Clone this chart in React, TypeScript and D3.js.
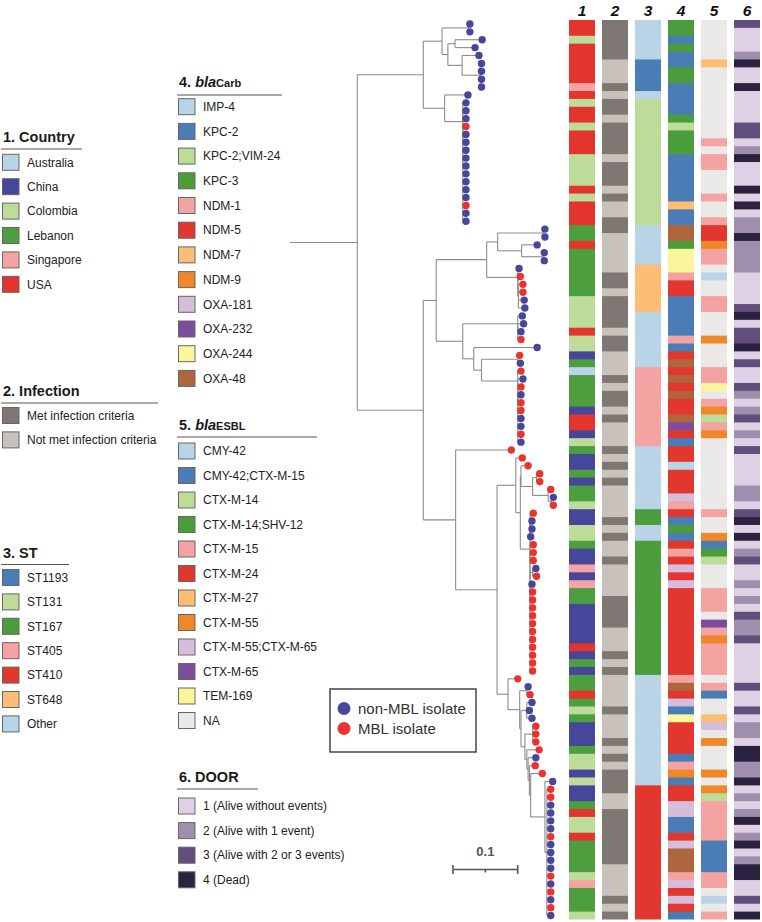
import React from "react";
import * as d3 from "d3";

// ---------------- DATA ----------------
const NROW = 114;

const countryCats = ["Australia", "China", "Colombia", "Lebanon", "Singapore", "USA"];
const countryColors = ["#b8d4e6", "#46469b", "#bddb99", "#4d9e3f", "#f4a4a4", "#e3352e"];
const countryKeys = "ANCLSU";
const countryRows =
  "UUCUUUUUSU" + "CUUCUUUCCC" + "CUCUUULLUL" + "LLLLLCCCCU" + "CCNLALLLLN" +
  "UUNCLNNLNL" + "LCNNCCLNNS" + "NSLLNNNNNU" + "NLNLLULCLN" + "NNLCCNCNNL" +
  "UCCULLLLCS" + "LLLC";

const infectionCats = ["Met infection criteria", "Not met infection criteria"];
const infectionColors = ["#7f7774", "#c9c1bc"];
const infectionKeys = "10";
const infectionRows =
  "1111100010" + "1101111011" + "1010011000" + "0011011110" + "1100010110" +
  "1000101010" + "0001010010" + "0001111000" + "1010000100" + "0101011100" +
  "1111111000" + "0101";

const stCats = ["ST1193", "ST131", "ST167", "ST405", "ST410", "ST648", "Other"];
const stColors = ["#4a7db6", "#bddb99", "#4b9d3c", "#f4a2a2", "#e2372f", "#fbbe74", "#b8d4e6"];
const stKeys = "bgGprox";
const stRows =
  "xxxxxbbbbx" + "gggggggggg" + "ggggggxxxx" + "xooooooxxx" + "xxxxpppppp" +
  "ppppxxxxxx" + "xxGGxxGGGG" + "GGGGGGGGGG" + "GGGxxxxxxx" + "xxxxxxxrrr" +
  "rrrrrrrrrr" + "rrrr";

const carbCats = ["IMP-4", "KPC-2", "KPC-2;VIM-24", "KPC-3", "NDM-1", "NDM-5", "NDM-7", "NDM-9", "OXA-181", "OXA-232", "OXA-244", "OXA-48"];
const carbColors = ["#b8d4e6", "#4a7db6", "#bddb99", "#4b9d3c", "#f4a2a2", "#e2372f", "#fbbe74", "#f0882a", "#d6bddc", "#7c4d9c", "#fbf69c", "#b0663d"];
const carbKeys = "abcdefghijkl";
const carbRows =
  "ddbdbbddbb" + "bbdcdddbbb" + "bbbgbblldk" + "kkeffbbbbb" + "ebflflflff" +
  "ljfbffafff" + "iefbdbfefi" + "fiffffffff" + "fffelfibkf" + "fffbehbffi" +
  "ibbfilllei" + "fifb";

const esblCats = ["CMY-42", "CMY-42;CTX-M-15", "CTX-M-14", "CTX-M-14;SHV-12", "CTX-M-15", "CTX-M-24", "CTX-M-27", "CTX-M-55", "CTX-M-55;CTX-M-65", "CTX-M-65", "TEM-169", "NA"];
const esblColors = ["#b8d4e6", "#4a7db6", "#bddb99", "#4b9d3c", "#f4a2a2", "#e2372f", "#fbbe74", "#f0882a", "#d6bddc", "#7c4d9c", "#fbf69c", "#ebe8e8"];
const esblKeys = "abcdefghijkl";
const esblRows =
  "lllllgllll" + "llllleleel" + "llelleffhe" + "elalleelll" + "hllleekleh" +
  "cehlllllll" + "llellhbdcl" + "lleeeljehe" + "eeelebllgi" + "lhlllhlhce" +
  "eeeebbbbee" + "lale";

const doorCats = ["1 (Alive without events)", "2 (Alive with 1 event)", "3 (Alive with 2 or 3 events)", "4 (Dead)"];
const doorColors = ["#dfd0e6", "#9f8fae", "#614e7c", "#2b2240"];
const doorKeys = "1234";
const doorRows =
  "3111241141" + "1113312411" + "1414122422" + "2211113413" + "3413113212" +
  "3121311112" + "2134141231" + "1212132231" + "1111311312" + "2144224121" +
  "2412412441" + "1314";

// 1 = MBL isolate (red), 0 = non-MBL isolate (blue)
const mblTips =
  "0000000000" + "0001000000" + "0001000000" + "0011100000" + "1010101011" +
  "0010111111" + "0110001110" + "1011111111" + "1111010001" + "1110110110" +
  "0001000010" + "1010";

// Tree: Newick-like, number after a node = node height from root (x 0.001 subst./site)
const treeText = `(
 (
  (
   ((278,278)276,((297,286)255,(292,(296,296,296,296)294)266)244)235,
   (275,(272,(272,(272,272,272,272,272,272,272,272,272,272,272,272,272,272)267)267)267)239
  )206,
  (
   (
    (((394,394)391,(382,(393,393)391)358)321,(354,(356,(360,360,362,363)353)352)352)304,
    ((359,(361,357,357)352)352,(382,((355,356)352,(357,(360,(357,(357,357,357,357,357,357,357)352)352)352)352)296)284)267
   )226,
   (342,
    (
     (359,((368,((386,386)381,(403,(407,407)404)399)375)357,
       ((376,(374,374,372)371)371,((376,376,376)371,((380,381)375,374,(375,375,375,375,375,375,375,375,375,375,375)371)371)371)371
     )356)349,
     (352,((368,371)366,((374,370,374)366,((380,380,380)375,(385,(380,(379,(390,(406,(403,403,403,403,403,403,403,403,403,403,403,403,403,403,403,403,403)397)394)372)370)368)366)363)357)355)337
    )320
   )256
  )206
 )104
)0`;

const mblLabels = ["non-MBL isolate", "MBL isolate"];
const mblColors = ["#46469b", "#e8342c"];
const columnLabels = ["1", "2", "3", "4", "5", "6"];

// ---------------- HELPERS ----------------
type TNode = { children?: TNode[]; h: number; leaf?: number; y?: number };

function parseTree(src: string): TNode {
  const s = src.replace(/\s+/g, "");
  let i = 0;
  let leafIdx = 0;
  const num = () => {
    const m = /^[0-9.]+/.exec(s.slice(i));
    const t = m ? m[0] : "0";
    i += t.length;
    return parseFloat(t);
  };
  const node = (): TNode => {
    if (s[i] === "(") {
      i++;
      const ch: TNode[] = [];
      for (;;) {
        ch.push(node());
        if (s[i] === ",") { i++; continue; }
        if (s[i] === ")") { i++; break; }
        break;
      }
      return { children: ch, h: num() };
    }
    return { h: num(), leaf: leafIdx++ };
  };
  return node();
}

const FONT = '"Liberation Sans", Arial, Helvetica, sans-serif';

type LegendSpec = {
  title: React.ReactNode;
  x: number;
  titleY: number;
  lineY: number;
  lineX2: number;
  y0: number;
  step: number;
  cats: string[];
  colors: string[];
};

function Legend({ spec }: { spec: LegendSpec }) {
  const { x, titleY, lineY, lineX2, y0, step, cats, colors } = spec;
  return (
    <g>
      <text x={x + 1} y={titleY} fontSize={14.5} fontWeight="bold" fill="#1a1a1a">{spec.title}</text>
      <line x1={x - 1} x2={lineX2} y1={lineY} y2={lineY} stroke="#555" strokeWidth={1.2} />
      {cats.map((c, k) => {
        const cy = y0 + k * step;
        return (
          <g key={c}>
            <rect x={x + 0.5} y={cy - 8} width={16.5} height={16} fill={colors[k]} stroke="#666" strokeWidth={1} />
            <text x={x + 25} y={cy + 4.2} fontSize={12} fill="#222">{c}</text>
          </g>
        );
      })}
    </g>
  );
}

export default function App() {
  const W = 762, H = 922;

  const yBand = d3.scaleBand<number>().domain(d3.range(NROW)).range([20, 919.5]).padding(0);
  const rowC = (i: number) => (yBand(i) as number) + yBand.bandwidth() / 2;
  const xTree = d3.scaleLinear().domain([0, 100]).range([290, 354.7]);

  const root = d3.hierarchy<TNode>(parseTree(treeText), (d) => d.children);
  root.eachAfter((n) => {
    if (n.data.leaf !== undefined) n.data.y = rowC(n.data.leaf);
    else {
      const ch = n.children!;
      n.data.y = (ch[0].data.y! + ch[ch.length - 1].data.y!) / 2;
    }
  });

  const segs: { x1: number; y1: number; x2: number; y2: number }[] = [];
  root.each((n) => {
    if (!n.children) return;
    const x = xTree(n.data.h);
    const ch = n.children;
    segs.push({ x1: x, y1: ch[0].data.y!, x2: x, y2: ch[ch.length - 1].data.y! });
    ch.forEach((c) => segs.push({ x1: x, y1: c.data.y!, x2: xTree(c.data.h), y2: c.data.y! }));
  });
  const leaves = root.leaves();

  const columns = [
    { rows: countryRows, keys: countryKeys, colors: countryColors },
    { rows: infectionRows, keys: infectionKeys, colors: infectionColors },
    { rows: stRows, keys: stKeys, colors: stColors },
    { rows: carbRows, keys: carbKeys, colors: carbColors },
    { rows: esblRows, keys: esblKeys, colors: esblColors },
    { rows: doorRows, keys: doorKeys, colors: doorColors },
  ];
  const xCol = d3.scaleBand<number>().domain(d3.range(6)).range([569, 760]).paddingInner(0.212).paddingOuter(0);

  const legends: LegendSpec[] = [
    { title: "1. Country", x: 2, titleY: 142, lineY: 149, lineX2: 82, y0: 162.3, step: 24.4, cats: countryCats, colors: countryColors },
    { title: "2. Infection", x: 2, titleY: 396, lineY: 403, lineX2: 158, y0: 415.5, step: 24.4, cats: infectionCats, colors: infectionColors },
    { title: "3. ST", x: 2, titleY: 558, lineY: 564.5, lineX2: 69, y0: 577.5, step: 24.4, cats: stCats, colors: stColors },
    {
      title: (<><tspan>4. </tspan><tspan fontStyle="italic">bla</tspan><tspan fontSize={11}>Carb</tspan></>),
      x: 178, titleY: 87, lineY: 95, lineX2: 282, y0: 106.7, step: 24.7, cats: carbCats, colors: carbColors,
    },
    {
      title: (<><tspan>5. </tspan><tspan fontStyle="italic">bla</tspan><tspan fontSize={11}>ESBL</tspan></>),
      x: 178, titleY: 430, lineY: 437, lineX2: 317, y0: 451, step: 24.5, cats: esblCats, colors: esblColors,
    },
    { title: "6. DOOR", x: 178, titleY: 782, lineY: 789, lineX2: 258, y0: 806, step: 24.6, cats: doorCats, colors: doorColors },
  ];

  const sb0 = 453;
  const sbLen = xTree(100) - xTree(0);

  return (
    <div style={{ position: "absolute", left: 0, top: 0 }}>
      <svg width={W} height={H} style={{ display: "block", background: "#fff" }} fontFamily={FONT}>
        <rect x={0} y={0} width={W} height={H} fill="#fff" />
        {/* tree */}
        <g stroke="#8c8c8c" strokeWidth={1.1} fill="none">
          {segs.map((s, k) => (
            <line key={k} x1={s.x1} y1={s.y1} x2={s.x2} y2={s.y2} />
          ))}
        </g>
        <g>
          {leaves.map((l) => (
            <circle key={l.data.leaf} cx={xTree(l.data.h)} cy={l.data.y} r={3.7}
              fill={mblColors[+mblTips[l.data.leaf!]]} />
          ))}
        </g>
        {/* heatmap */}
        {columns.map((col, ci) => (
          <g key={ci}>
            <text x={(xCol(ci) as number) + xCol.bandwidth() / 2} y={15.5} textAnchor="middle"
              fontSize={15.5} fontWeight="bold" fontStyle="italic" fill="#111">{columnLabels[ci]}</text>
            {d3.range(NROW).map((r) => (
              <rect key={r} x={xCol(ci)} y={yBand(r)} width={xCol.bandwidth()}
                height={yBand.bandwidth() + (r < NROW - 1 ? 1 : 0)}
                fill={col.colors[col.keys.indexOf(col.rows[r])]} />
            ))}
          </g>
        ))}
        {/* legends */}
        {legends.map((s, k) => <Legend key={k} spec={s} />)}
        {/* MBL legend */}
        <g>
          <rect x={330} y={689} width={146} height={63} fill="#fff" stroke="#444" strokeWidth={1.5} />
          {mblLabels.map((t, k) => (
            <g key={t}>
              <circle cx={344} cy={708.5 + k * 20} r={6.5} fill={mblColors[k]} />
              <text x={358} y={713.8 + k * 20} fontSize={15} fill="#333">{t}</text>
            </g>
          ))}
        </g>
        {/* scale bar */}
        <g stroke="#555" strokeWidth={1.6}>
          <line x1={sb0} x2={sb0 + sbLen} y1={869.5} y2={869.5} />
          <line x1={sb0} x2={sb0} y1={865} y2={874} />
          <line x1={sb0 + sbLen} x2={sb0 + sbLen} y1={865} y2={874} />
          <line x1={sb0 + sbLen / 2} x2={sb0 + sbLen / 2} y1={869.5} y2={872.5} />
        </g>
        <text x={sb0 + sbLen / 2} y={856} textAnchor="middle" fontSize={13} fontWeight="bold" fill="#555">0.1</text>
      </svg>
    </div>
  );
}
